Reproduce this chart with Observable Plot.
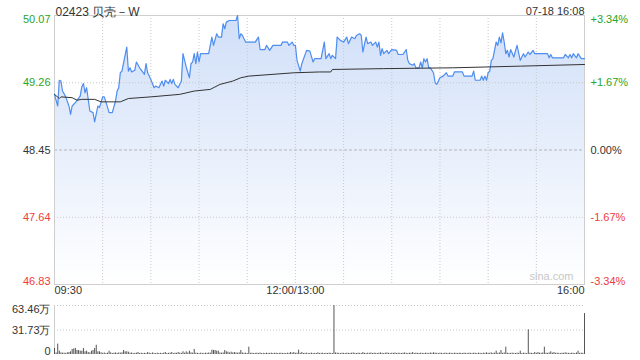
<!DOCTYPE html>
<html><head><meta charset="utf-8">
<script src="https://cdn.jsdelivr.net/npm/d3@7"></script>
<script src="https://cdn.jsdelivr.net/npm/@observablehq/plot@0.6"></script>
<style>
html,body{margin:0;padding:0;background:#fff;}
#chart{position:relative;width:640px;height:360px;overflow:hidden;font-family:"Liberation Sans",Arial,sans-serif;}
#chart svg{position:absolute;left:0;display:block;overflow:visible;}
</style></head><body><div id="chart"></div>
<script>
const title = "02423 贝壳－W";
const stamp = "07-18 16:08";
const watermark = "sina.com";

// minutes since 09:30 (trading minutes, lunch break removed) and prices
const priceMinutes = [0,2,3,4,5,7,9,10,11,13,16,17,18,19,20,21,22,24,25,27,28,30,31,32,34,36,38,39,40,41,42,45,46,47,48,50,51,53,56,57,58,60,62,63,65,67,68,69,71,72,73,74,75,77,79,80,82,84,85,86,87,88,89,90,91,96,98,99,101,102,104,105,106,107,109,113,114,115,116,117,119,125,127,128,131,132,134,136,141,142,145,146,148,149,150,151,153,154,157,159,161,162,166,168,169,171,172,173,175,176,178,180,182,183,185,187,188,190,191,192,194,195,197,198,200,201,202,203,204,205,207,208,210,213,214,217,219,220,221,223,224,225,227,228,229,230,231,232,233,234,236,237,238,240,242,244,245,248,249,254,255,260,261,262,265,266,267,268,269,270,271,272,273,275,276,277,278,279,280,281,282,283,284,286,288,290,292,293,295,296,298,299,307,308,309,310,317,318,320,321,322,323,325,326,328,330];
const prices = [49.12,48.98,49.29,49.28,49.16,49.09,48.98,48.88,48.98,49.02,49.10,49.21,49.25,49.14,49.20,49.06,48.92,48.90,48.79,48.98,48.96,49.09,49.09,49.03,48.90,48.90,49.04,49.16,49.20,49.38,49.40,49.69,49.40,49.44,49.39,49.41,49.51,49.44,49.36,49.49,49.38,49.30,49.20,49.22,49.20,49.28,49.22,49.29,49.25,49.30,49.25,49.30,49.24,49.20,49.28,49.61,49.45,49.32,49.49,49.51,49.61,49.49,49.63,49.51,49.61,49.61,49.81,49.71,49.85,49.81,49.81,49.97,49.91,49.99,50.01,50.01,50.07,49.79,49.85,49.83,49.75,49.75,49.81,49.66,49.66,49.71,49.65,49.71,49.71,49.75,49.75,49.71,49.75,49.71,49.71,49.53,49.40,49.49,49.65,49.64,49.51,49.55,49.55,49.75,49.55,49.61,49.55,49.59,49.55,49.81,49.77,49.75,49.81,49.73,49.81,49.79,49.83,49.85,49.83,49.63,49.81,49.73,49.75,49.71,49.75,49.69,49.75,49.59,49.67,49.61,49.65,49.61,49.66,49.65,49.60,49.60,49.66,49.53,49.49,49.47,49.49,49.44,49.44,49.51,49.44,49.55,49.51,49.55,49.44,49.44,49.38,49.26,49.24,49.32,49.34,49.38,49.34,49.34,49.39,49.39,49.34,49.34,49.40,49.29,49.29,49.34,49.29,49.34,49.29,49.38,49.40,49.53,49.55,49.75,49.71,49.81,49.74,49.86,49.75,49.61,49.65,49.57,49.66,49.57,49.71,49.53,49.61,49.57,49.63,49.60,49.65,49.61,49.61,49.56,49.60,49.56,49.56,49.60,49.56,49.60,49.56,49.61,49.56,49.61,49.55,49.55];

// average price line
const avgMinutes = [0,3,4,11,14,17,25,29,38,41,46,60,78,87,97,103,111,116,121,149,165,172,173,205,248,290,330];
const avgPrices = [49.12,49.07,49.09,49.08,49.05,49.06,49.06,49.03,49.03,49.03,49.07,49.09,49.12,49.16,49.18,49.24,49.28,49.32,49.34,49.38,49.39,49.39,49.42,49.43,49.44,49.46,49.48];

// volume per minute (万股), index = minutes since 09:30
const volumes = [7.8,2,13.4,4.3,2.2,1.7,1.7,1.5,2.2,2.6,3.5,6.5,7.3,7.8,5.2,5.2,4.3,4.3,7.8,3.5,4.3,2.6,2,4.3,5.2,7.8,12,3.5,3.5,2.2,
1.5,2,1.3,1.7,4.3,2.2,1.3,1.7,2,1.5,2,1.7,2.2,5.2,3.5,3.5,3,1.7,2,1.3,1.5,1.7,2.6,1.3,1.7,1.3,1.5,1.3,2.6,1.7,
1.3,2,1.5,1.3,1.7,1.3,1.5,1.3,1.7,2.6,1.3,1.5,1.7,2.6,1.3,1.7,1.5,2.6,1.7,1.5,3.5,1.7,3.5,2,4.3,2.2,1.7,6.5,1.7,1.5,
1.3,1.7,1.5,1.3,1.7,1.5,2,1.7,5.6,5.2,5.2,4.3,4.3,2,1.7,2,5.2,3.5,3,2,3,2,2.6,2,1.7,2.2,5.2,2,1.5,1.7,
1.3,9.5,1.5,1.7,1.3,1.5,1.7,1.3,2,1.3,1.5,1.3,1.7,1.3,1.5,1.7,1.3,1.5,1.7,1.3,1.5,1.7,1.3,1.5,1.3,1.7,1.5,2.6,1.7,2.6,
1.5,1.7,5.6,1.5,2.6,1.3,1.5,1.7,1.3,1.5,1.7,1.3,1.5,1.3,2.2,1.3,1.5,1.7,1.3,1.5,1.3,1.7,1.5,1.3,63.46,2,1.7,1.5,1.3,1.7,
1.5,1.3,1.7,1.5,1.3,1.7,2,1.5,1.3,1.7,1.5,1.3,2.6,1.5,1.3,1.7,1.5,2,1.3,1.7,1.5,1.3,1.7,2,1.5,1.3,1.7,2,1.5,1.3,
1.7,1.5,2,1.3,1.7,1.5,1.3,1.7,2,1.5,1.3,1.7,1.5,2.6,1.3,1.7,1.5,1.3,1.7,1.5,1.3,1.7,1.5,1.3,2,1.5,2.2,1.7,1.5,1.3,
1.7,1.5,1.3,1.7,1.5,1.3,1.7,1.5,1.3,1.7,1.5,1.3,1.7,1.5,1.3,1.7,1.5,1.3,1.7,1.5,1.3,1.7,1.5,1.3,1.7,1.5,1.3,1.7,1.5,2.2,
1.5,1.7,2,1.5,1.7,4.3,1.5,2,5.2,1.5,2,9.5,1.7,1.3,1.5,1.7,1.5,1.3,1.7,1.5,4.3,1.3,1.7,1.5,1.3,32,1.7,1.5,1.3,2.6,
1.5,2.6,1.7,1.5,2,9.5,1.7,1.5,2,3.5,1.7,2.6,1.5,1.7,1.5,1.3,1.7,1.5,2.2,1.7,1.5,1.3,1.7,1.5,1.3,2,4.3,1.5,1.7,1.5,
53];

const priceTicks = [50.07, 49.26, 48.45, 47.64, 46.83];
const pctLabels = ["+3.34%", "+1.67%", "0.00%", "-1.67%", "-3.34%"];
const volTicks = [63.46, 31.73, 0];
const volLabels = ["63.46万", "31.73万", "0"];
const timeTicks = [0, 150, 330];
const timeLabels = ["09:30", "12:00/13:00", "16:00"];
const gridMinutes = [30, 60, 90, 120, 150, 180, 210, 240, 270, 300];

const FONT = '"Liberation Sans", Arial, sans-serif';
const GREEN = "#2aa52a", RED = "#f03c3c", DARK = "#333";
const prevClose = priceTicks[2];
const colorOf = v => v > prevClose ? GREEN : v < prevClose ? RED : DARK;

const price = priceMinutes.map((m, i) => ({m, p: prices[i]}));
const avg = avgMinutes.map((m, i) => ({m, p: avgPrices[i]}));
const vol = volumes.map((v, i) => ({m: i, v}));
const yTicks = priceTicks.map((v, i) => ({v, i, pct: pctLabels[i]}));
const vTicks = volTicks.map((v, i) => ({v, i, label: volLabels[i]}));
const tTicks = timeTicks.map((m, i) => ({m, i, label: timeLabels[i]}));
const last = yTicks.length - 1;

const defs = () => {
  const d = d3.create("svg:defs");
  const g = d.append("linearGradient").attr("id", "fillGrad").attr("x1", 0).attr("y1", 0).attr("x2", 0).attr("y2", 1);
  g.append("stop").attr("offset", "0%").attr("stop-color", "#d0dff8");
  g.append("stop").attr("offset", "100%").attr("stop-color", "#ffffff");
  return d.node();
};

const yLabelMarks = (group, lineAnchor) => [
  Plot.text(yTicks.filter(group), {y: "v", text: d => d.v.toFixed(2), frameAnchor: "left", textAnchor: "end", dx: -4, lineAnchor, fill: d => colorOf(d.v)}),
  Plot.text(yTicks.filter(group), {y: "v", text: "pct", frameAnchor: "right", textAnchor: "start", dx: 6, lineAnchor, fill: d => colorOf(d.v)})
];

const main = Plot.plot({
  width: 640, height: 300,
  marginLeft: 54, marginRight: 56, marginTop: 15, marginBottom: 16,
  x: {domain: [0, 330], axis: null},
  y: {domain: [46.83, 50.07], axis: null},
  color: {type: "identity"},
  style: {fontFamily: FONT, fontSize: "11px", background: "transparent", overflow: "visible"},
  marks: [
    defs,
    Plot.areaY(price, {x: "m", y1: 46.83, y2: "p", fill: "url(#fillGrad)"}),
    Plot.ruleX(gridMinutes, {stroke: "#c8c8c8", strokeDasharray: "1,2"}),
    Plot.ruleY([priceTicks[1], priceTicks[3]], {stroke: "#c8c8c8", strokeDasharray: "1,2"}),
    Plot.ruleY([prevClose], {stroke: "#b8b8b8", strokeDasharray: "3,2"}),
    Plot.frame({stroke: "#cfcfcf"}),
    Plot.line(price, {x: "m", y: "p", stroke: "#4f8ef0", strokeWidth: 1.2}),
    Plot.line(avg, {x: "m", y: "p", stroke: "#333", strokeWidth: 1}),
    ...yLabelMarks(d => d.i === 0, "top"),
    ...yLabelMarks(d => d.i > 0 && d.i < last, "middle"),
    ...yLabelMarks(d => d.i === last, "bottom"),
    Plot.text(tTicks.filter(d => d.i === 0), {x: "m", text: "label", frameAnchor: "bottom", textAnchor: "start", dy: 9, fill: DARK}),
    Plot.text(tTicks.filter(d => d.i === 1), {x: "m", text: "label", frameAnchor: "bottom", textAnchor: "middle", dy: 9, fill: DARK}),
    Plot.text(tTicks.filter(d => d.i === 2), {x: "m", text: "label", frameAnchor: "bottom", textAnchor: "end", dy: 9, fill: DARK}),
    Plot.text([title], {frameAnchor: "top-left", textAnchor: "start", dy: -8, dx: 1, fontSize: 12, fill: DARK}),
    Plot.text([stamp], {frameAnchor: "top-right", textAnchor: "end", dy: -8, fill: DARK}),
    Plot.text([watermark], {frameAnchor: "bottom-right", textAnchor: "end", dx: -11, dy: -5, fill: "#c8c8c8"})
  ]
});
main.style.top = "0px";

const volPlot = Plot.plot({
  width: 640, height: 60,
  marginLeft: 54, marginRight: 56, marginTop: 5, marginBottom: 6,
  x: {domain: [0, 330], axis: null},
  y: {domain: [0, 63.46], axis: null},
  style: {fontFamily: FONT, fontSize: "11px", background: "transparent", overflow: "visible"},
  marks: [
    Plot.ruleY(volTicks.slice(0, 2), {stroke: "#c8c8c8", strokeDasharray: "1,2"}),
    Plot.ruleX([0], {stroke: "#cfcfcf"}),
    Plot.ruleX(vol, {x: "m", y1: 0, y2: "v", stroke: "#555", strokeWidth: 1}),
    Plot.text(vTicks.filter(d => d.i === 0), {y: "v", text: "label", frameAnchor: "left", textAnchor: "end", dx: -4, lineAnchor: "top", fill: DARK}),
    Plot.text(vTicks.filter(d => d.i === 1), {y: "v", text: "label", frameAnchor: "left", textAnchor: "end", dx: -4, lineAnchor: "middle", fill: DARK}),
    Plot.text(vTicks.filter(d => d.i === 2), {y: "v", text: "label", frameAnchor: "left", textAnchor: "end", dx: -4, lineAnchor: "bottom", fill: DARK})
  ]
});
volPlot.style.top = "300px";

const root = document.getElementById("chart");
root.append(main, volPlot);
</script>
</body></html>
